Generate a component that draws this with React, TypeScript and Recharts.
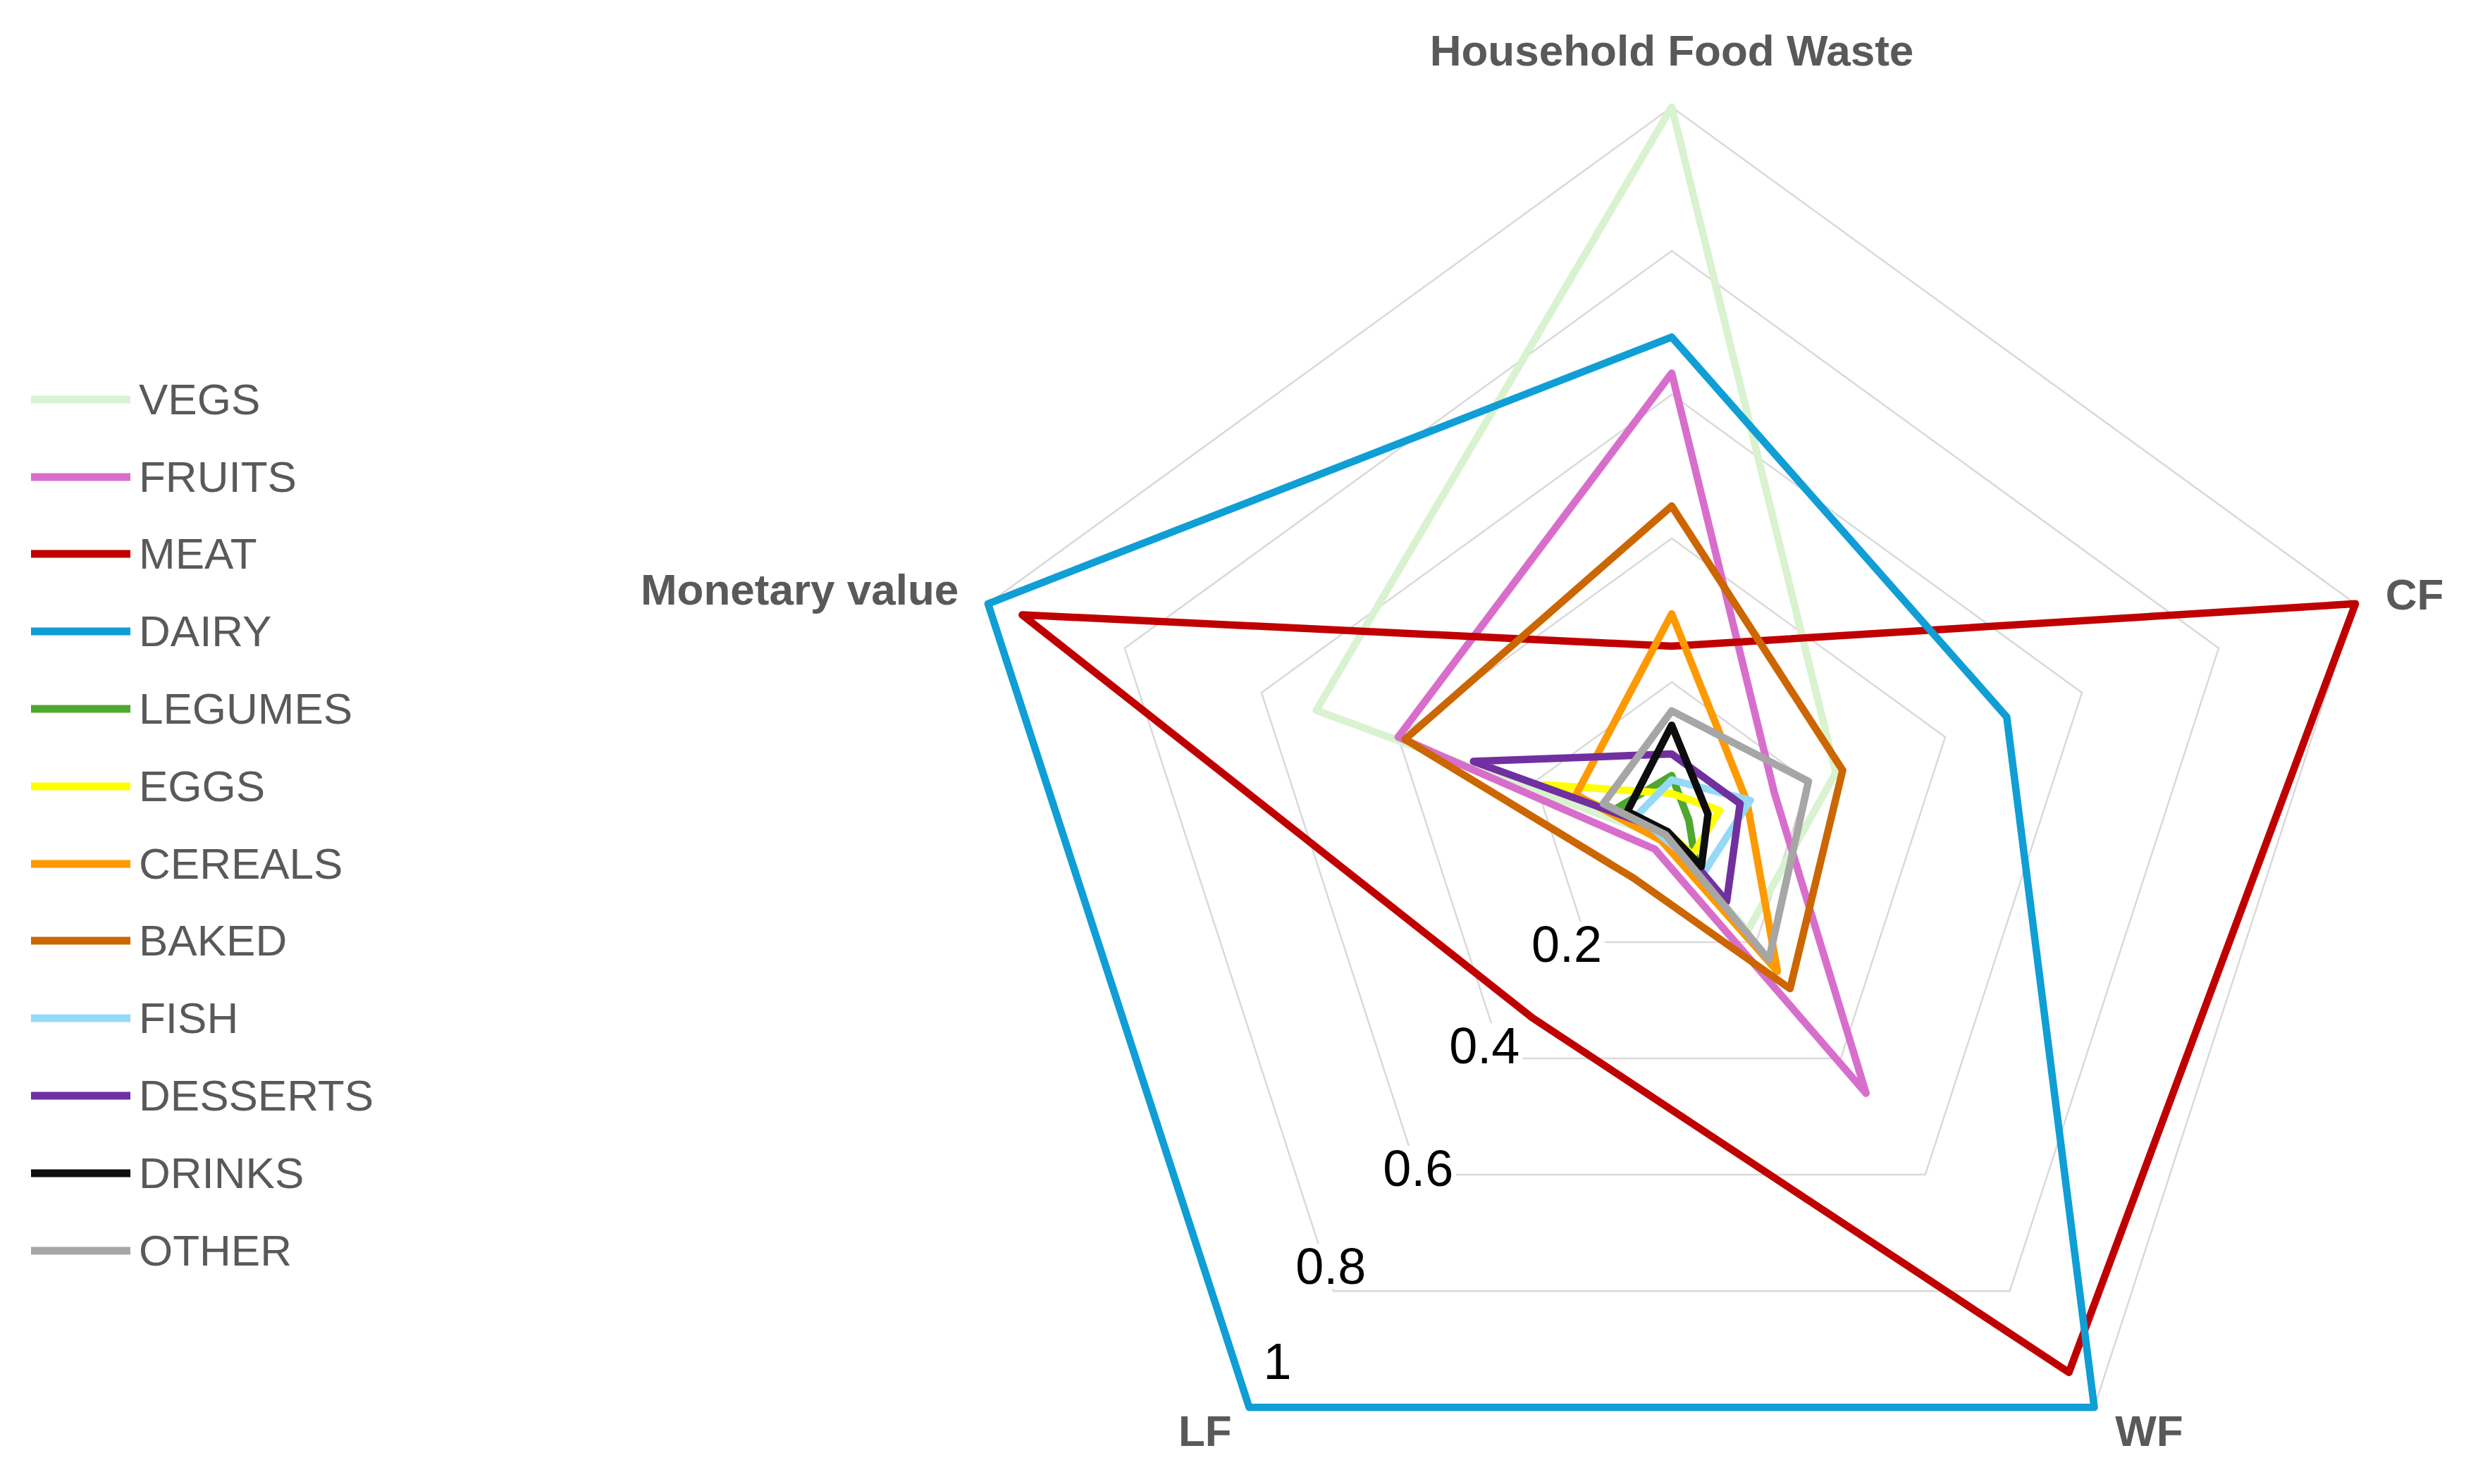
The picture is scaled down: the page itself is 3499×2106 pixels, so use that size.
import {
  RadarChart,
  Radar,
  PolarGrid,
  PolarAngleAxis,
  PolarRadiusAxis,
  Legend,
} from "recharts";

const FONT = '"Liberation Sans", Arial, sans-serif';

// chart geometry (px)
const W = 3499;
const H = 2106;
const CX = 2372;
const CY = 1172;
const R = 1020;

const AXES = ["Household Food Waste", "CF", "WF", "LF", "Monetary value"];
const RADIUS_TICKS = [0, 0.2, 0.4, 0.6, 0.8, 1];

// values per axis, in AXES order
const VEGS = [1.0, 0.24, 0.18, 0.02, 0.52];
const FRUITS = [0.63, 0.15, 0.46, 0.04, 0.4];
const MEAT = [0.25, 1.0, 0.94, 0.33, 0.95];
const DAIRY = [0.68, 0.49, 1.0, 1.0, 1.0];
const LEGUMES = [0.07, 0.025, 0.055, 0.02, 0.08];
const EGGS = [0.045, 0.07, 0.05, 0.01, 0.185];
const CEREALS = [0.295, 0.11, 0.25, 0.025, 0.14];
const BAKED = [0.445, 0.25, 0.28, 0.09, 0.39];
const FISH = [0.064, 0.115, 0.078, 0.02, 0.05];
const DESSERTS = [0.1, 0.1, 0.13, 0.01, 0.29];
const DRINKS = [0.14, 0.053, 0.07, 0.01, 0.065];
const OTHER = [0.16, 0.2, 0.23, 0.015, 0.1];

const SERIES = [
  { name: "VEGS", values: VEGS, color: "#d9f2d0" },
  { name: "FRUITS", values: FRUITS, color: "#d86ecc" },
  { name: "MEAT", values: MEAT, color: "#c00000" },
  { name: "DAIRY", values: DAIRY, color: "#0f9ed5" },
  { name: "LEGUMES", values: LEGUMES, color: "#4ea72e" },
  { name: "EGGS", values: EGGS, color: "#ffff00" },
  { name: "CEREALS", values: CEREALS, color: "#ff9900" },
  { name: "BAKED", values: BAKED, color: "#cc6600" },
  { name: "FISH", values: FISH, color: "#95d9f7" },
  { name: "DESSERTS", values: DESSERTS, color: "#7030a0" },
  { name: "DRINKS", values: DRINKS, color: "#0d0d0d" },
  { name: "OTHER", values: OTHER, color: "#a6a6a6" },
];

const data = AXES.map((axis, i) => {
  const row: Record<string, string | number> = { axis };
  SERIES.forEach((s) => {
    row[s.name] = s.values[i];
  });
  return row;
});

// where each axis title sits relative to its tick point
const TITLE_POS: Record<string, { dx: number; dy: number; anchor: "start" | "middle" | "end" }> = {
  "Household Food Waste": { dx: 0, dy: -51, anchor: "middle" },
  CF: { dx: 35, dy: 11, anchor: "start" },
  WF: { dx: 25, dy: 48, anchor: "start" },
  LF: { dx: -20, dy: 48, anchor: "end" },
  "Monetary value": { dx: -34, dy: 4, anchor: "end" },
};

// nudges for the value labels (they don't sit exactly on the axis in the original)
const VALUE_LABEL_NUDGE: Record<string, [number, number]> = {
  "0.2": [-29, 3],
  "0.4": [-26, -18],
  "0.6": [0, -9],
  "0.8": [-4, -35],
  "1": [40, -65],
};

function AngleTick(props: any) {
  const { x, y, payload } = props;
  const p = TITLE_POS[payload.value] ?? { dx: 0, dy: 0, anchor: "middle" };
  return (
    <text
      x={x + p.dx}
      y={y + p.dy}
      textAnchor={p.anchor}
      fill="#595959"
      fontSize={62}
      fontWeight="bold"
      fontFamily={FONT}
    >
      {payload.value}
    </text>
  );
}

function RadiusTick(props: any) {
  const { x, y, payload } = props;
  const v = Number(payload.value);
  if (!v) return <g />;
  const label = String(Number(v.toFixed(1)));
  const [nx, ny] = VALUE_LABEL_NUDGE[label] ?? [0, 0];
  const lx = x + nx;
  const ly = y + ny;
  const w = label.length === 1 ? 40 : 100;
  return (
    <g>
      <rect x={lx - w / 2 - 4} y={ly - 32} width={w + 8} height={64} fill="#ffffff" />
      <text
        x={lx}
        y={ly}
        textAnchor="middle"
        dominantBaseline="central"
        fontSize={72}
        fill="#000000"
        fontFamily={FONT}
      >
        {label}
      </text>
    </g>
  );
}

function LegendContent(props: any) {
  const payload: any[] = props.payload ?? [];
  const order = SERIES.map((s) => s.name);
  const items = [...payload].sort((a, b) => order.indexOf(a.value) - order.indexOf(b.value));
  return (
    <div>
      {items.map((entry) => {
        const color = SERIES.find((s) => s.name === entry.value)?.color ?? entry.color;
        return (
          <div key={entry.value} style={{ display: "flex", alignItems: "center", height: 109.8 }}>
            <svg width={141} height={14} style={{ display: "block" }}>
              <line x1={0} y1={7} x2={141} y2={7} stroke={color} strokeWidth={11} />
            </svg>
            <span
              style={{
                marginLeft: 12,
                fontSize: 62,
                lineHeight: 1,
                color: "#595959",
                fontFamily: FONT,
                whiteSpace: "nowrap",
              }}
            >
              {entry.value}
            </span>
          </div>
        );
      })}
    </div>
  );
}

export default function App() {
  return (
    <div style={{ position: "absolute", left: 0, top: 0, width: W, height: H, background: "#ffffff" }}>
      <RadarChart width={W} height={H} data={data} cx={CX} cy={CY} outerRadius={R}>
        <PolarGrid gridType="polygon" radialLines={false} stroke="#d9d9d9" strokeWidth={2.5} />
        <PolarAngleAxis dataKey="axis" tickLine={false} axisLine={false} tick={AngleTick} />
        {SERIES.map((s) => (
          <Radar
            key={s.name}
            name={s.name}
            dataKey={s.name}
            stroke={s.color}
            strokeWidth={10.5}
            strokeLinejoin="round"
            fill="none"
            fillOpacity={0}
            dot={false}
            isAnimationActive={false}
          />
        ))}
        <PolarRadiusAxis
          type="number"
          angle={234}
          domain={[0, 1]}
          ticks={RADIUS_TICKS as any}
          tickCount={6}
          axisLine={false}
          tick={RadiusTick}
        />
        <Legend
          layout="vertical"
          align="left"
          verticalAlign="top"
          content={LegendContent}
          wrapperStyle={{ left: 44, top: 512 }}
        />
      </RadarChart>
    </div>
  );
}
